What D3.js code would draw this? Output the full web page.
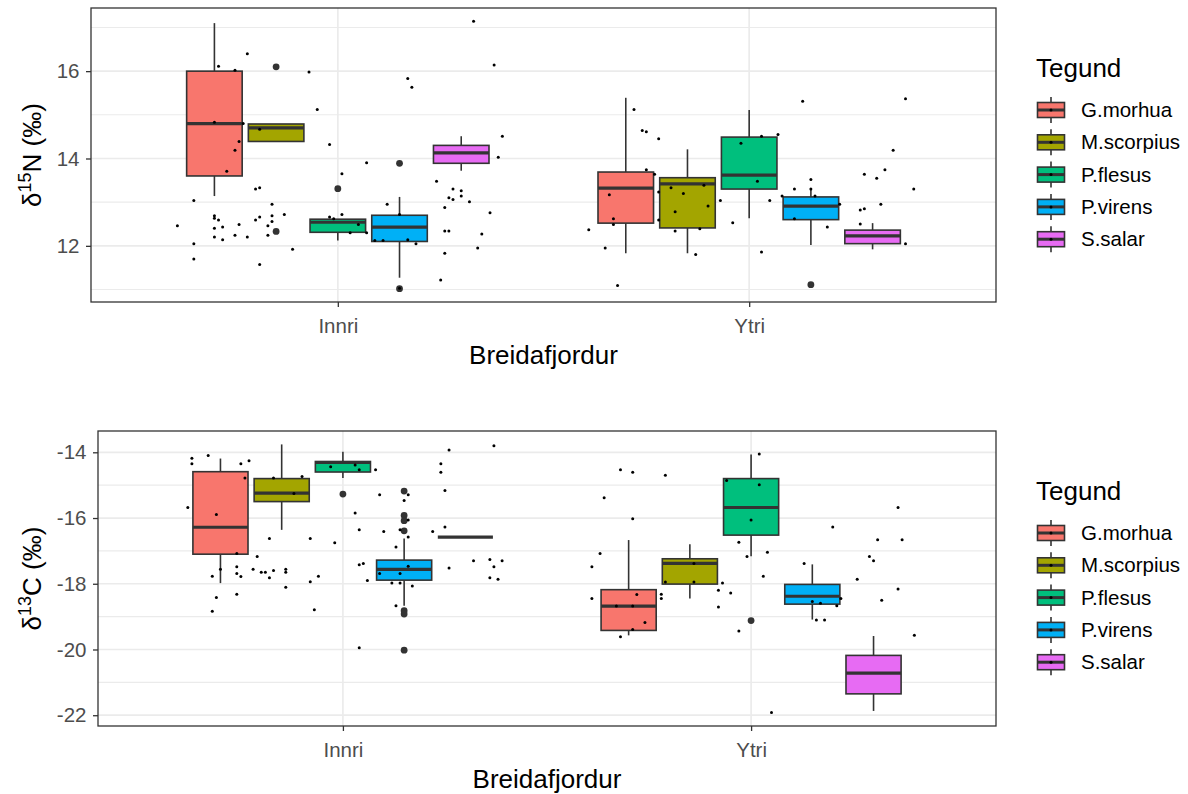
<!DOCTYPE html>
<html>
<head>
<meta charset="utf-8">
<script src="https://cdn.jsdelivr.net/npm/d3@7"></script>
<style>
  body { margin: 0; background: #fff; }
  svg text { font-family: 'Liberation Sans', Arial, sans-serif; }
</style>
</head>
<body>
<svg id="chart" width="1188" height="794"></svg>
<script>
const species = ['G.morhua', 'M.scorpius', 'P.flesus', 'P.virens', 'S.salar'];
const speciesColors = ['#F8766D', '#A3A500', '#00BF7D', '#00B0F6', '#E76BF3'];
const locations = ['Innri', 'Ytri'];

// box stats per species: [lower whisker, q1, median, q3, upper whisker]
const n15InnriBox = [
  [13.14, 13.60, 14.80, 16.00, 17.10],
  [14.39, 14.39, 14.70, 14.79, 14.79],
  [12.12, 12.31, 12.54, 12.61, 12.61],
  [11.27, 12.10, 12.43, 12.70, 13.12],
  [13.72, 13.89, 14.13, 14.30, 14.51]
];
const n15YtriBox = [
  [11.83, 12.52, 13.32, 13.69, 15.39],
  [11.83, 12.41, 13.42, 13.56, 14.21],
  [12.63, 13.30, 13.62, 14.49, 15.11],
  [12.02, 12.60, 12.91, 13.12, 13.30],
  [11.92, 12.05, 12.23, 12.36, 12.52]
];
const c13InnriBox = [
  [-17.98, -17.10, -16.28, -14.59, -14.19],
  [-16.36, -15.50, -15.24, -14.80, -13.76],
  [-14.78, -14.60, -14.31, -14.28, -13.98],
  [-18.67, -17.89, -17.56, -17.28, -16.62],
  [-16.58, -16.58, -16.58, -16.58, -16.58]
];
const c13YtriBox = [
  [-19.57, -19.42, -18.68, -18.18, -16.67],
  [-18.45, -18.01, -17.38, -17.24, -16.80],
  [-17.16, -16.52, -15.68, -14.80, -14.07],
  [-19.09, -18.62, -18.38, -18.02, -17.41],
  [-21.87, -21.35, -20.72, -20.18, -19.59]
];

// outliers: [location index, species index, value]
const n15Outliers = [
  [0, 1, 16.10], [0, 1, 12.33], [0, 2, 13.31], [0, 3, 13.89], [0, 3, 11.02],
  [1, 3, 11.11]
];
const c13Outliers = [
  [0, 2, -15.27],
  [0, 3, -15.18], [0, 3, -15.92], [0, 3, -16.08], [0, 3, -16.39],
  [0, 3, -18.82], [0, 3, -18.92], [0, 3, -20.02],
  [1, 2, -19.12]
];

// jittered observations: [horizontal jitter, value]
const n15InnriPts = [
  [0.33, 17.14], [-0.22, 16.40], [-0.29, 16.11], [-0.25, 16.02], [-0.07, 15.98],
  [0.38, 16.14], [0.17, 15.83], [0.18, 15.63], [-0.05, 15.12], [-0.30, 14.83],
  [-0.23, 14.80], [-0.19, 14.67], [-0.24, 14.39], [-0.25, 14.19], [-0.02, 14.32],
  [0.40, 14.51], [0.39, 14.03], [-0.27, 13.71], [0.07, 13.90], [0.01, 13.65],
  [0.24, 13.48], [-0.20, 13.30], [-0.19, 13.33], [0.28, 13.30], [0.30, 13.26],
  [0.28, 13.06], [0.27, 13.10], [0.30, 13.14], [0.32, 13.01], [0.26, 12.88],
  [-0.35, 13.04], [-0.16, 12.95], [0.12, 12.95], [-0.13, 12.72], [-0.16, 12.69],
  [-0.19, 12.66], [-0.20, 12.59], [-0.16, 12.56], [-0.17, 12.46], [-0.30, 12.69],
  [-0.30, 12.63], [-0.29, 12.59], [-0.24, 12.49], [-0.28, 12.43], [-0.30, 12.40],
  [-0.39, 12.46], [-0.30, 12.20], [-0.28, 12.14], [-0.25, 12.24], [-0.22, 12.20],
  [-0.17, 12.24], [-0.35, 12.05], [-0.35, 11.70], [-0.19, 11.57], [-0.11, 11.92],
  [-0.02, 12.66], [-0.01, 12.62], [0.01, 12.72], [0.05, 12.49], [0.03, 12.30],
  [0.07, 12.30], [0.09, 12.12], [0.11, 12.12], [0.15, 12.72], [0.17, 12.14],
  [0.19, 12.05], [0.26, 12.34], [0.27, 12.34], [0.35, 12.27], [0.37, 12.76],
  [0.26, 11.83], [0.34, 11.95], [0.25, 11.22], [0.15, 11.03]
];
const n15YtriPts = [
  [-0.28, 15.12], [-0.26, 14.64], [-0.25, 14.61], [-0.22, 14.45], [-0.25, 13.74],
  [-0.23, 13.64], [-0.22, 13.23], [-0.34, 13.17], [-0.19, 13.33], [-0.16, 13.20],
  [-0.11, 13.39], [-0.18, 12.78], [-0.10, 12.91], [-0.07, 13.04], [-0.22, 12.59],
  [-0.33, 12.62], [-0.33, 12.49], [-0.39, 12.37], [-0.18, 12.34], [-0.12, 12.39],
  [-0.35, 11.95], [-0.13, 11.80], [-0.32, 11.09], [-0.04, 12.53], [-0.02, 14.35],
  [0.03, 14.51], [0.07, 14.55], [0.02, 13.48], [0.05, 13.04], [0.03, 11.86],
  [0.13, 15.31], [0.08, 13.14], [0.11, 13.30], [0.15, 13.52], [0.15, 13.30],
  [0.16, 13.14], [0.22, 12.95], [0.11, 12.62], [0.19, 12.43], [0.28, 13.64],
  [0.31, 13.55], [0.33, 13.74], [0.35, 14.19], [0.38, 15.37], [0.40, 13.30],
  [0.32, 12.95], [0.27, 12.82], [0.28, 12.85], [0.27, 12.50], [0.38, 12.05]
];
const c13InnriPts = [
  [-0.37, -14.18], [-0.37, -14.35], [-0.33, -14.10], [-0.25, -14.35], [-0.23, -14.26],
  [-0.24, -14.78], [-0.38, -15.68], [-0.31, -15.89], [-0.17, -14.78], [-0.10, -14.74],
  [-0.12, -15.25], [-0.03, -14.44], [0.03, -14.39], [0.04, -14.53], [0.08, -14.53],
  [0.26, -13.93], [0.37, -13.80], [0.24, -14.35], [0.24, -14.61], [0.25, -15.16],
  [0.09, -15.29], [0.16, -15.29], [0.15, -15.47], [0.03, -15.85], [0.04, -16.36],
  [0.10, -16.41], [0.14, -16.36], [0.16, -16.06], [0.16, -16.58], [0.22, -16.41],
  [0.25, -16.27], [0.13, -16.88], [-0.02, -16.75], [-0.08, -16.62], [-0.18, -16.62],
  [-0.21, -17.17], [-0.26, -17.08], [-0.30, -17.56], [-0.26, -17.48], [-0.26, -17.69],
  [-0.25, -17.78], [-0.32, -17.77], [-0.22, -17.56], [-0.20, -17.65], [-0.19, -17.65],
  [-0.17, -17.60], [-0.18, -17.82], [-0.14, -17.56], [-0.14, -17.65], [-0.31, -18.42],
  [-0.32, -18.84], [-0.26, -18.32], [-0.14, -18.11], [-0.08, -17.94], [-0.06, -17.77],
  [-0.07, -18.79], [0.04, -17.42], [0.05, -17.38], [0.06, -17.90], [0.09, -17.69],
  [0.14, -17.69], [0.16, -17.47], [0.12, -17.98], [0.14, -17.98], [0.17, -18.07],
  [0.13, -18.67], [0.04, -19.95], [0.26, -17.52], [0.32, -17.30], [0.36, -17.26],
  [0.37, -17.48], [0.39, -17.30], [0.36, -17.82], [0.38, -17.86]
];
const c13YtriPts = [
  [-0.32, -14.53], [-0.29, -14.61], [-0.21, -14.70], [-0.36, -15.38], [-0.29, -16.02],
  [-0.37, -17.08], [-0.39, -17.48], [-0.39, -18.45], [-0.28, -18.33], [-0.33, -18.68],
  [-0.29, -18.68], [-0.26, -19.18], [-0.29, -19.39], [-0.32, -19.61], [-0.22, -18.32],
  [-0.22, -18.45], [-0.14, -17.38], [-0.21, -17.95], [-0.14, -17.95], [-0.07, -17.98],
  [-0.08, -18.20], [-0.05, -18.28], [-0.08, -18.71], [-0.03, -19.44], [-0.06, -14.86],
  [0.02, -14.99], [0.02, -14.05], [0.00, -16.06], [-0.03, -16.74], [-0.01, -17.17],
  [0.04, -17.04], [0.03, -17.77], [0.05, -21.92], [0.13, -17.38], [0.20, -16.27],
  [0.15, -18.54], [0.17, -18.59], [0.22, -18.45], [0.21, -18.67], [0.16, -19.10],
  [0.18, -19.10], [0.26, -17.86], [0.29, -17.17], [0.30, -17.30], [0.31, -16.66],
  [0.36, -15.68], [0.37, -16.66], [0.36, -18.16], [0.32, -18.50], [0.40, -19.57]
];

const svg = d3.select('#chart');
const dark = '#333333';

function drawPanel(cfg) {
  const g = svg.append('g');

  const vals = [];
  cfg.boxes.forEach(rows => rows.forEach(r => vals.push(...r)));
  cfg.outliers.forEach(o => vals.push(o[2]));
  cfg.points.forEach(pts => pts.forEach(p => vals.push(p[1])));
  const [lo, hi] = d3.extent(vals);
  const pad = (hi - lo) * 0.05;

  const y = d3.scaleLinear().domain([lo - pad, hi + pad]).range([cfg.bottom, cfg.top]);
  const x = d3.scalePoint().domain(locations).range([cfg.left, cfg.right]).padding(0.6);
  const step = x.step();
  const dodge = 0.15 * step;
  const bw = 0.135 * step;

  const major = y.ticks(4);
  const gap = major[1] - major[0];
  const minor = d3.range(major[0] - gap / 2, major[major.length - 1] + gap, gap)
    .filter(v => v > y.domain()[0] && v < y.domain()[1]);

  // grid
  g.selectAll('.minor').data(minor).join('line')
    .attr('x1', cfg.left).attr('x2', cfg.right)
    .attr('y1', d => y(d)).attr('y2', d => y(d))
    .attr('stroke', '#EBEBEB').attr('stroke-width', 1.1);
  g.selectAll('.majory').data(major).join('line')
    .attr('x1', cfg.left).attr('x2', cfg.right)
    .attr('y1', d => y(d)).attr('y2', d => y(d))
    .attr('stroke', '#EBEBEB').attr('stroke-width', 1.7);
  g.selectAll('.majorx').data(locations).join('line')
    .attr('x1', d => x(d)).attr('x2', d => x(d))
    .attr('y1', cfg.top).attr('y2', cfg.bottom)
    .attr('stroke', '#EBEBEB').attr('stroke-width', 1.7);

  // boxplots
  locations.forEach((loc, li) => {
    cfg.boxes[li].forEach((s, k) => {
      const cx = x(loc) + (k - 2) * dodge;
      const b = g.append('g');
      b.append('line').attr('x1', cx).attr('x2', cx)
        .attr('y1', y(s[0])).attr('y2', y(s[1]))
        .attr('stroke', dark).attr('stroke-width', 1.6);
      b.append('line').attr('x1', cx).attr('x2', cx)
        .attr('y1', y(s[3])).attr('y2', y(s[4]))
        .attr('stroke', dark).attr('stroke-width', 1.6);
      b.append('rect')
        .attr('x', cx - bw / 2).attr('width', bw)
        .attr('y', y(s[3])).attr('height', y(s[1]) - y(s[3]))
        .attr('fill', speciesColors[k])
        .attr('stroke', dark).attr('stroke-width', 1.6);
      b.append('line')
        .attr('x1', cx - bw / 2).attr('x2', cx + bw / 2)
        .attr('y1', y(s[2])).attr('y2', y(s[2]))
        .attr('stroke', dark).attr('stroke-width', 3.2);
    });
  });

  g.selectAll('.outlier').data(cfg.outliers).join('circle')
    .attr('cx', d => x(locations[d[0]]) + (d[1] - 2) * dodge)
    .attr('cy', d => y(d[2]))
    .attr('r', 3.4)
    .attr('fill', dark);

  // jittered points
  locations.forEach((loc, li) => {
    g.selectAll('.pt' + li).data(cfg.points[li]).join('circle')
      .attr('cx', d => x(loc) + d[0] * step)
      .attr('cy', d => y(d[1]))
      .attr('r', 1.5)
      .attr('fill', '#000');
  });

  // panel border
  g.append('rect')
    .attr('x', cfg.left).attr('y', cfg.top)
    .attr('width', cfg.right - cfg.left).attr('height', cfg.bottom - cfg.top)
    .attr('fill', 'none').attr('stroke', dark).attr('stroke-width', 1.3);

  // axes
  const yAxis = g.append('g')
    .attr('transform', `translate(${cfg.left},0)`)
    .call(d3.axisLeft(y).tickValues(major).tickSize(5).tickPadding(6.5)
      .tickFormat(d => String(d)));
  const xAxis = g.append('g')
    .attr('transform', `translate(0,${cfg.bottom})`)
    .call(d3.axisBottom(x).tickSize(5).tickPadding(11.5));
  [yAxis, xAxis].forEach(a => {
    a.select('.domain').remove();
    a.selectAll('line').attr('stroke', dark).attr('stroke-width', 1.3);
    a.selectAll('text')
      .attr('fill', '#4D4D4D')
      .style('font-size', '20.5px')
      .style('font-family', "'Liberation Sans', Arial, sans-serif");
  });

  g.append('text')
    .attr('x', (cfg.left + cfg.right) / 2)
    .attr('y', cfg.bottom + 62)
    .attr('text-anchor', 'middle')
    .style('font-size', '26px')
    .text('Breidafjordur');

  const yt = g.append('text')
    .attr('transform', `translate(41,${(cfg.top + cfg.bottom) / 2}) rotate(-90)`)
    .attr('text-anchor', 'middle')
    .style('font-size', '26px');
  yt.append('tspan').text('δ');
  yt.append('tspan').text(cfg.isotope).attr('dy', -10).style('font-size', '18px');
  yt.append('tspan').text(cfg.element + ' (‰)').attr('dy', 10);

  // legend
  const leg = g.append('g');
  leg.append('text')
    .attr('x', 1036).attr('y', cfg.top + 69)
    .style('font-size', '26px')
    .text('Tegund');
  const keyH = 32.3;
  species.forEach((sp, k) => {
    const cy = cfg.top + 102 + k * keyH;
    const kx = 1051;
    leg.append('line').attr('x1', kx).attr('x2', kx)
      .attr('y1', cy - 13).attr('y2', cy + 13)
      .attr('stroke', dark).attr('stroke-width', 1.6);
    leg.append('rect')
      .attr('x', kx - 13.5).attr('y', cy - 7.5)
      .attr('width', 27).attr('height', 15)
      .attr('fill', speciesColors[k])
      .attr('stroke', dark).attr('stroke-width', 1.6);
    leg.append('line').attr('x1', kx - 13.5).attr('x2', kx + 13.5)
      .attr('y1', cy).attr('y2', cy)
      .attr('stroke', dark).attr('stroke-width', 3);
    leg.append('circle').attr('cx', kx).attr('cy', cy).attr('r', 1.5).attr('fill', '#000');
    leg.append('text')
      .attr('x', 1081).attr('y', cy)
      .attr('dy', '0.35em')
      .style('font-size', '20.5px')
      .text(sp);
  });
}

drawPanel({
  top: 8, bottom: 302, left: 91, right: 996,
  boxes: [n15InnriBox, n15YtriBox],
  outliers: n15Outliers,
  points: [n15InnriPts, n15YtriPts],
  isotope: '15', element: 'N'
});

drawPanel({
  top: 431, bottom: 726, left: 98, right: 996,
  boxes: [c13InnriBox, c13YtriBox],
  outliers: c13Outliers,
  points: [c13InnriPts, c13YtriPts],
  isotope: '13', element: 'C'
});
</script>
</body>
</html>
